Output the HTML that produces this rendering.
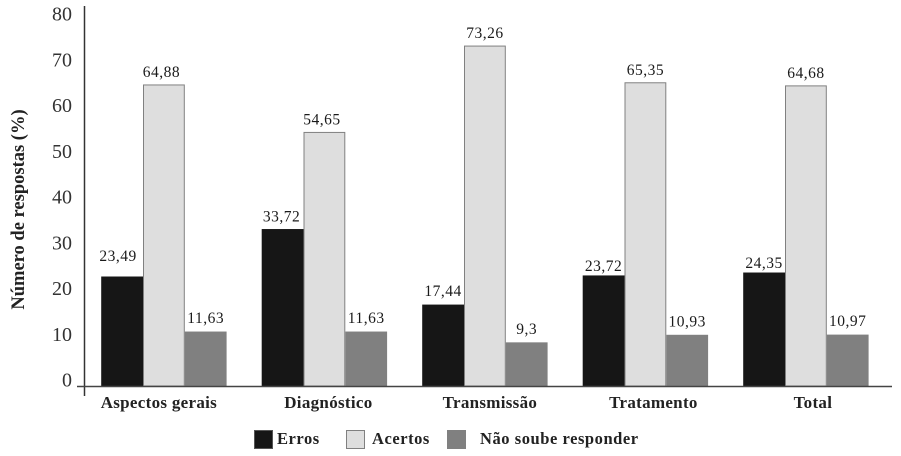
<!DOCTYPE html>
<html lang="pt">
<head>
<meta charset="utf-8">
<title>Número de respostas</title>
<style>
html,body{margin:0;padding:0;background:#fff;}
svg{display:block;}
text{font-family:"Liberation Serif",serif;}
.tick{font-size:20px;fill:#333;text-anchor:end;}
.val{font-size:15.5px;fill:#1a1a1a;text-anchor:middle;letter-spacing:.5px;}
.cat{font-size:17px;font-weight:bold;fill:#222;text-anchor:middle;letter-spacing:.3px;}
.leg{font-size:16.5px;font-weight:bold;fill:#222;letter-spacing:.55px;}
</style>
</head>
<body>
<svg id="chart" xmlns="http://www.w3.org/2000/svg" width="901" height="456" viewBox="0 0 901 456">
<text transform="translate(24,209.5) rotate(-90)" text-anchor="middle" font-size="18.5" font-weight="bold" fill="#222">Número de respostas (%)</text>
<g id="marks"></g>
<line x1="84.5" y1="6" x2="84.5" y2="396" stroke="#333" stroke-width="1.5"/>
<line x1="77" y1="386.5" x2="892" y2="386.5" stroke="#444" stroke-width="1.6"/>
<g>
<rect x="254.5" y="430.5" width="18" height="18" fill="#161616" stroke="#555" stroke-width="1"/>
<text class="leg" x="277" y="444">Erros</text>
<rect x="346.5" y="430.5" width="18" height="18" fill="#dedede" stroke="#808080" stroke-width="1"/>
<text class="leg" x="372" y="444">Acertos</text>
<rect x="447.5" y="430.5" width="18" height="18" fill="#808080" stroke="#808080" stroke-width="1"/>
<text class="leg" x="480" y="444">Não soube responder</text>
</g>
</svg>
<script>
const categories = ["Aspectos gerais", "Diagnóstico", "Transmissão", "Tratamento", "Total"];
const erros = [23.49, 33.72, 17.44, 23.72, 24.35];
const acertos = [64.88, 54.65, 73.26, 65.35, 64.68];
const naoSoube = [11.63, 11.63, 9.3, 10.93, 10.97];
const tickLabels = [0, 10, 20, 30, 40, 50, 60, 70, 80];

const NS = "http://www.w3.org/2000/svg";
const marks = document.getElementById("marks");
const yScale = v => 386 - v * 4.64;
const tickY = v => 386.5 - v * 4.575;
const groupX = i => 101.2 + i * 160.5;
const barW = 41.8;
const formatValue = v => String(v).replace(".", ",");

function make(tag, attrs, parent) {
  const el = document.createElementNS(NS, tag);
  for (const k in attrs) el.setAttribute(k, attrs[k]);
  parent.appendChild(el);
  return el;
}

tickLabels.forEach(t => {
  const el = make("text", { class: "tick", x: 72, y: tickY(t) }, marks);
  
  
  el.textContent = t;
});

const seriesList = [
  { key: "erros", values: erros, fill: "#161616", stroke: "#161616", lift: 5 },
  { key: "acertos", values: acertos, fill: "#dedede", stroke: "#808080", lift: 8 },
  { key: "nao-soube", values: naoSoube, fill: "#808080", stroke: "#808080", lift: 9 }
];

function labelLift(si, i, base) {
  if (si === 0 && i === 0) return 16;
  if (si === 0 && i === 1) return 8;
  if (si === 0 && i === 2) return 9;
  return base;
}

function labelShift(si, i) {
  if (si === 0 && i === 0) return -4;
  if (si === 1 && i <= 1) return -2.5;
  if (si === 0 && i === 1) return -1;
  return 0;
}

seriesList.forEach((s, si) => {
  s.values.forEach((v, i) => {
    const x = groupX(i) + si * barW;
    const y = yScale(v);
    const r = make("rect", {
      x: x + 0.5, y: y, width: barW - 1, height: 386 - y,
      fill: s.fill, stroke: s.stroke, "stroke-width": 1
    }, marks);
    
    
    const t = make("text", { class: "val", x: x + barW / 2 + labelShift(si, i), y: y - labelLift(si, i, s.lift) }, marks);
    
    
    t.textContent = formatValue(v);
  });
});

categories.forEach((c, i) => {
  const nudge = [-5, 4, 5, 8, 7][i];
  const t = make("text", { class: "cat", x: groupX(i) + barW * 1.5 + nudge, y: 408 }, marks);
  
  
  t.textContent = c;
});
</script>
</body>
</html>
